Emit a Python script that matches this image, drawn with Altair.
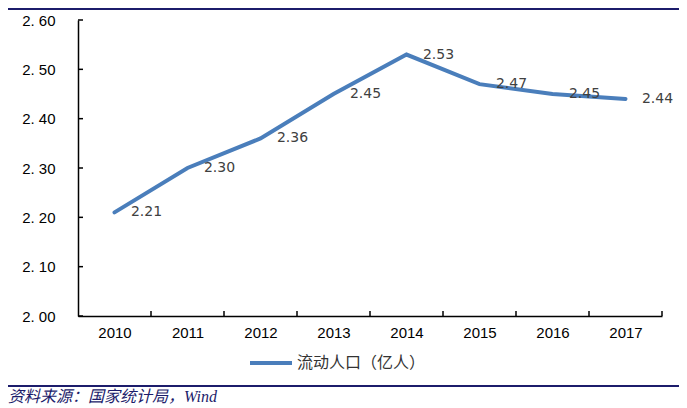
import altair as alt
import pandas as pd

years = [2010, 2011, 2012, 2013, 2014, 2015, 2016, 2017]
values = [2.21, 2.30, 2.36, 2.45, 2.53, 2.47, 2.45, 2.44]
series_name = "流动人口（亿人）"
y_ticks = [2.0, 2.1, 2.2, 2.3, 2.4, 2.5, 2.6]
x_bounds = [2010.5, 2011.5, 2012.5, 2013.5, 2014.5, 2015.5, 2016.5, 2017.5]
source_text = "资料来源：国家统计局，Wind"

W, H = 584, 296
LINE_COLOR = "#4a7ebb"
NAVY = "#1c1c6b"

df = pd.DataFrame({"year": years, "value": values, "series": [series_name] * len(years)})
yt = pd.DataFrame({"v": y_ticks})
xt = pd.DataFrame({"b": x_bounds})

xscale = alt.Scale(domain=[2009.5, 2017.5], nice=False, zero=False)
yscale = alt.Scale(domain=[2.0, 2.6], nice=False, zero=False)

base = alt.Chart(df)

line = base.mark_line(strokeWidth=4, strokeCap="round").encode(
    x=alt.X("year:Q", scale=xscale, title=None,
            axis=alt.Axis(values=years, format="d", ticks=False, grid=False,
                          domainColor="black", domainWidth=1.5,
                          labelFont="Liberation Sans", labelFontSize=15,
                          labelColor="black", labelPadding=9)),
    y=alt.Y("value:Q", scale=yscale, title=None,
            axis=alt.Axis(values=y_ticks, ticks=False, grid=False,
                          domainColor="black", domainWidth=1.5,
                          labelExpr="replace(format(datum.value, '.2f'), '.', '. ')",
                          labelFont="Liberation Sans", labelFontSize=15,
                          labelColor="black", labelPadding=23)),
    color=alt.Color("series:N", scale=alt.Scale(range=[LINE_COLOR]), title=None,
                    legend=alt.Legend(orient="none", legendX=170, legendY=320,
                                      symbolType="stroke", symbolStrokeWidth=4,
                                      symbolSize=1764, labelFont="Noto Sans CJK SC",
                                      labelFontSize=16, labelColor="#333333",
                                      labelOffset=3)),
)

labels = base.mark_text(dx=32, fontSize=14, font="DejaVu Sans", color="#404040").encode(
    x=alt.X("year:Q", scale=xscale),
    y=alt.Y("value:Q", scale=yscale),
    text=alt.Text("value:Q", format=".2f"),
)

ytick_marks = alt.Chart(yt).mark_rule(color="black", strokeWidth=1.5).encode(
    y=alt.Y("v:Q", scale=yscale), x=alt.value(0), x2=alt.value(5)
)
xtick_marks = alt.Chart(xt).mark_rule(color="black", strokeWidth=1.5).encode(
    x=alt.X("b:Q", scale=xscale), y=alt.value(H), y2=alt.value(H - 5)
)

top_rule = alt.Chart(df).mark_rule(color=NAVY, strokeWidth=2).encode(
    x=alt.value(-70), x2=alt.value(602), y=alt.value(-11)
)
bottom_rule = alt.Chart(df).mark_rule(color=NAVY, strokeWidth=1.5).encode(
    x=alt.value(-70), x2=alt.value(602), y=alt.value(366)
)
source = alt.Chart(pd.DataFrame({"t": [source_text]})).mark_text(
    align="left", baseline="alphabetic", fontSize=16, fontStyle="italic",
    font="Liberation Serif, Noto Sans CJK SC", color=NAVY
).encode(text="t:N", x=alt.value(-70), y=alt.value(382))

chart = alt.layer(
    line, labels, ytick_marks, xtick_marks, top_rule, bottom_rule, source
).properties(
    width=W, height=H,
    autosize=alt.AutoSizeParams(type="none"),
    padding={"left": 70, "top": 12, "right": 17, "bottom": 90},
).configure_view(stroke=None)

chart.save("out.html", embed_options={"renderer": "svg", "actions": False})
